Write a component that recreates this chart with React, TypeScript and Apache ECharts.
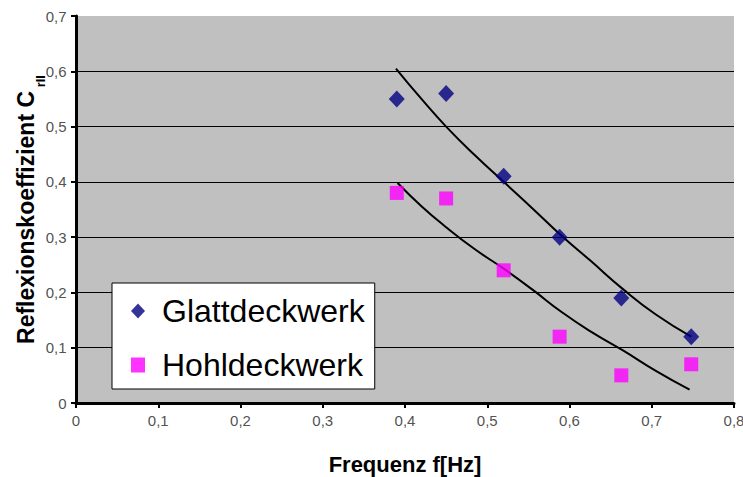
import React, { useEffect, useRef } from "react";
import * as echarts from "echarts";

const glattX = [0.39, 0.45, 0.52, 0.588, 0.663, 0.748];
const glattY = [0.55, 0.56, 0.41, 0.3, 0.19, 0.12];
const hohlX = [0.39, 0.45, 0.52, 0.588, 0.663, 0.748];
const hohlY = [0.38, 0.37, 0.24, 0.12, 0.05, 0.07];
// trend curves
const trendGlattX = [0.389, 0.42, 0.45, 0.485, 0.52, 0.555, 0.59, 0.625, 0.665, 0.705, 0.748];
const trendGlattY = [0.605, 0.55, 0.5, 0.448, 0.4, 0.352, 0.303, 0.258, 0.206, 0.16, 0.12];
const trendHohlX = [0.391, 0.42, 0.45, 0.485, 0.52, 0.555, 0.59, 0.625, 0.665, 0.705, 0.746];
const trendHohlY = [0.398, 0.356, 0.318, 0.278, 0.243, 0.205, 0.165, 0.13, 0.095, 0.058, 0.024];

const xTicks = [0, 0.1, 0.2, 0.3, 0.4, 0.5, 0.6, 0.7, 0.8];
const yTicks = [0, 0.1, 0.2, 0.3, 0.4, 0.5, 0.6, 0.7];

const seriesNames = ["Glattdeckwerk", "Hohldeckwerk"];
const xTitle = "Frequenz f[Hz]";
const yTitleMain = "Reflexionskoeffizient C";
const yTitleSub = "rII";
const X_MIN = 0, X_MAX = 0.8, Y_MIN = 0, Y_MAX = 0.7, STEP = 0.1;

const zip = (xs: number[], ys: number[]) => xs.map((x, i) => [x, ys[i]]);
const fmt = (v: any) => String(Math.round(Number(v) * 10) / 10).replace(".", ",");

export default function App() {
  const ref = useRef<HTMLDivElement>(null);
  useEffect(() => {
    if (!ref.current) return;
    const chart = echarts.init(ref.current, null, { renderer: "svg" });
    const font = "Arial, 'Liberation Sans', sans-serif";
    const labelStyle = { fontFamily: font, fontSize: 15, color: "#222" };
    chart.setOption({
      animation: false,
      grid: {
        left: 76,
        right: 9,
        top: 16,
        bottom: 74,
        outerBoundsMode: "none",
        show: true,
        backgroundColor: "#c0c0c0",
        borderWidth: 0,
      },
      legend: {
        data: seriesNames.map((n, i) => ({ name: n, icon: i === 0 ? "diamond" : "rect" })),
        orient: "vertical",
        left: 112,
        top: 283,
        z: 20,
        backgroundColor: "#ffffff",
        borderColor: "#000000",
        borderWidth: 1,
        borderRadius: 0,
        padding: [10, 10, 6, 19],
        itemWidth: 14,
        itemHeight: 15,
        itemGap: 18,
        textStyle: {
          fontFamily: font,
          fontSize: 32,
          color: "#000000",
          lineHeight: 36,
          padding: [0, 0, 0, 12],
        },
      },
      xAxis: {
        type: "value",
        min: X_MIN,
        max: X_MAX,
        interval: STEP,
        name: xTitle,
        nameLocation: "middle",
        nameGap: 50,
        nameTextStyle: { fontFamily: font, fontSize: 22, fontWeight: "bold", color: "#000" },
        axisLine: { show: true, lineStyle: { color: "#000000", width: 3 } },
        axisTick: { show: true, length: 5, lineStyle: { color: "#000000", width: 2 } },
        axisLabel: { show: false },
        splitLine: { show: false },
      },
      yAxis: {
        type: "value",
        min: Y_MIN,
        max: Y_MAX,
        interval: STEP,
        name: "{main|" + yTitleMain + "}{sub| " + yTitleSub + "}",
        nameLocation: "middle",
        nameGap: 39,
        nameTextStyle: {
          fontFamily: font,
          color: "#000",
          rich: {
            main: { fontFamily: font, fontSize: 23, fontWeight: "bold", color: "#000" },
            sub: { fontFamily: font, fontSize: 13, fontWeight: "bold", color: "#000", verticalAlign: "bottom", padding: [0, 0, -10, 0] },
          },
        },
        axisLine: { show: true, lineStyle: { color: "#000000", width: 3 } },
        axisTick: { show: true, length: 5, lineStyle: { color: "#000000", width: 2 } },
        axisLabel: { show: false },
        splitLine: { show: true, showMaxLine: false, lineStyle: { color: "#000000", width: 1 } },
      },
      series: [
        {
          name: "trend1",
          type: "line",
          data: zip(trendGlattX, trendGlattY),
          smooth: true,
          symbol: "none",
          lineStyle: { color: "#000", width: 2 },
          z: 3,
        },
        {
          name: "trend2",
          type: "line",
          data: zip(trendHohlX, trendHohlY),
          smooth: true,
          symbol: "none",
          lineStyle: { color: "#000", width: 2 },
          z: 3,
        },
        {
          name: "xTickLabels",
          type: "scatter",
          data: xTicks.map((t) => [t, Y_MIN]),
          symbol: "circle",
          symbolSize: 1,
          clip: false,
          silent: true,
          itemStyle: { color: "rgba(0,0,0,0)" },
          label: {
            show: true,
            position: "bottom",
            distance: 9,
            ...labelStyle,
            formatter: (p: any) => fmt(p.value[0]),
          },
          emphasis: { disabled: true },
          z: 5,
        },
        {
          name: "yTickLabels",
          type: "scatter",
          data: yTicks.map((t) => [X_MIN, t]),
          symbol: "circle",
          symbolSize: 1,
          clip: false,
          silent: true,
          itemStyle: { color: "rgba(0,0,0,0)" },
          label: {
            show: true,
            position: "left",
            distance: 9,
            ...labelStyle,
            formatter: (p: any) => fmt(p.value[1]),
          },
          emphasis: { disabled: true },
          z: 5,
        },
        {
          name: seriesNames[0],
          type: "scatter",
          data: zip(glattX, glattY),
          symbol: "diamond",
          symbolSize: [16, 17],
          itemStyle: { color: "#000080" },
          z: 4,
        },
        {
          name: seriesNames[1],
          type: "scatter",
          data: zip(hohlX, hohlY),
          symbol: "rect",
          symbolSize: 14,
          itemStyle: { color: "#ff00ff" },
          z: 4,
        },
      ],
    });
    return () => chart.dispose();
  }, []);
  return <div ref={ref} style={{ position: "absolute", left: 0, top: 0, width: 743, height: 477 }} />;
}
